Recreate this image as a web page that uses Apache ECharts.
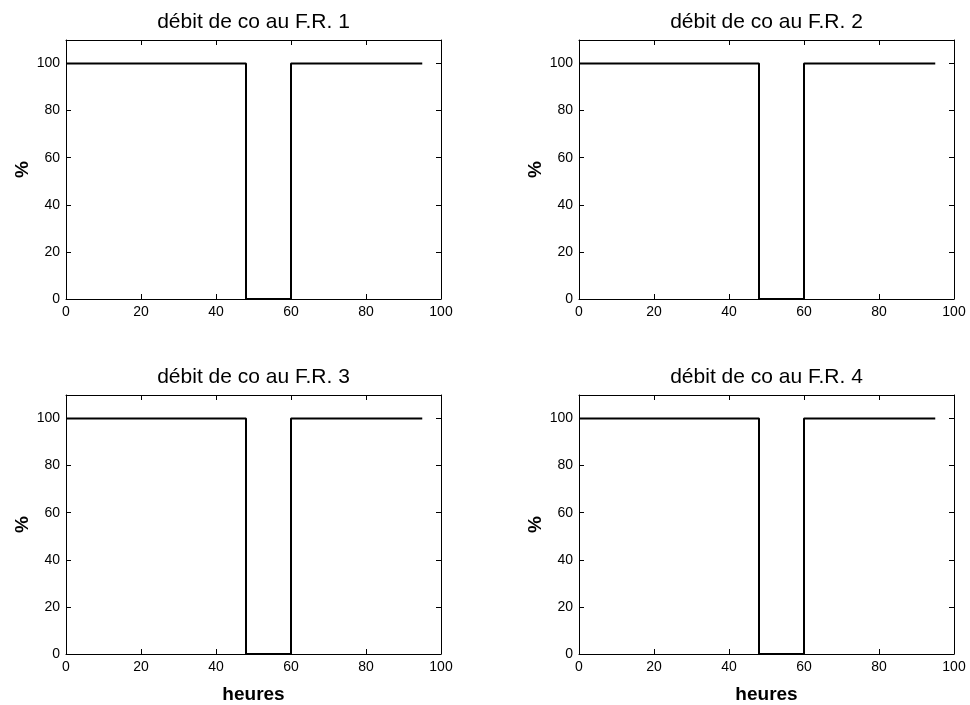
<!DOCTYPE html>
<html><head><meta charset="utf-8">
<script src="https://cdn.jsdelivr.net/npm/echarts@6/dist/echarts.min.js"></script>
<style>html,body{margin:0;padding:0;background:#fff}#c{width:970px;height:705px}</style>
</head><body><div id="c"></div>
<script>
// ---- data ----
const hours = [0, 48, 48, 60, 60, 95];
const debitFR1 = [100, 100, 0, 0, 100, 100];
const debitFR2 = [100, 100, 0, 0, 100, 100];
const debitFR3 = [100, 100, 0, 0, 100, 100];
const debitFR4 = [100, 100, 0, 0, 100, 100];
const titles = ['débit de co au F.R. 1', 'débit de co au F.R. 2', 'débit de co au F.R. 3', 'débit de co au F.R. 4'];
const xTickLabels = [0, 20, 40, 60, 80, 100];
const yTickLabels = [0, 20, 40, 60, 80, 100];
const yLabel = '%';
const xLabel = 'heures';

const allSeries = [debitFR1, debitFR2, debitFR3, debitFR4];
const FONT = '"Liberation Sans", Arial, Helvetica, sans-serif';
const lefts = [66, 579, 66, 579];
const tops = [40, 40, 395, 395];
const W = 375, H = 259;

const grid = [], xAxis = [], yAxis = [], series = [], graphic = [];
const xStep = xTickLabels[1] - xTickLabels[0];
const yStep = yTickLabels[1] - yTickLabels[0];
for (let i = 0; i < 4; i++) {
  grid.push({left: lefts[i], top: tops[i], width: W, height: H, show: false, containLabel: false});
  const lineS = {show: true, onZero: false, lineStyle: {color: '#000', width: 1}};
  const tickS = {show: true, inside: true, length: 5, lineStyle: {color: '#000', width: 1}};
  xAxis.push({
    type: 'value', gridIndex: i, position: 'bottom',
    min: xTickLabels[0], max: xTickLabels[xTickLabels.length - 1], interval: xStep,
    axisLine: lineS, axisTick: tickS, splitLine: {show: false},
    axisLabel: {color: '#000', fontSize: 14, fontFamily: FONT, margin: 6},
    name: i >= 2 ? xLabel : '', nameLocation: 'middle', nameGap: 31,
    nameTextStyle: {color: '#000', fontSize: 19, fontWeight: 'bold', fontFamily: FONT}
  });
  xAxis.push({
    type: 'value', gridIndex: i, position: 'top',
    min: xTickLabels[0], max: xTickLabels[xTickLabels.length - 1], interval: xStep,
    axisLine: lineS, axisTick: tickS, splitLine: {show: false}, axisLabel: {show: false}
  });
  yAxis.push({
    type: 'value', gridIndex: i, position: 'left',
    min: 0, max: 110, interval: yStep,
    axisLine: lineS, axisTick: tickS, splitLine: {show: false},
    axisLabel: {color: '#000', fontSize: 14, fontFamily: FONT, margin: 6, showMaxLabel: false,
      formatter: v => (yTickLabels.indexOf(v) >= 0 ? String(v) : '')},
    name: yLabel, nameLocation: 'middle', nameGap: 33, nameRotate: 90,
    nameTextStyle: {color: '#000', fontSize: 19, fontWeight: 'bold', fontFamily: FONT}
  });
  yAxis.push({
    type: 'value', gridIndex: i, position: 'right',
    min: 0, max: 110, interval: yStep,
    axisLine: lineS, axisTick: tickS, splitLine: {show: false}, axisLabel: {show: false}
  });
  series.push({
    type: 'line', xAxisIndex: 2 * i, yAxisIndex: 2 * i,
    data: hours.map((h, k) => [h, allSeries[i][k]]),
    showSymbol: false, symbol: 'none',
    lineStyle: {color: '#000', width: 2}, silent: true
  });
  graphic.push({
    type: 'text', x: lefts[i] + W / 2, y: tops[i] - 18,
    style: {text: titles[i], fill: '#000', font: '21px ' + FONT,
      align: 'center', verticalAlign: 'middle', textAlign: 'center', textVerticalAlign: 'middle'}
  });
}

const chart = echarts.init(document.getElementById('c'), null, {renderer: 'canvas'});
chart.setOption({animation: false, backgroundColor: '#fff', grid, xAxis, yAxis, series, graphic});
</script>
</body></html>
